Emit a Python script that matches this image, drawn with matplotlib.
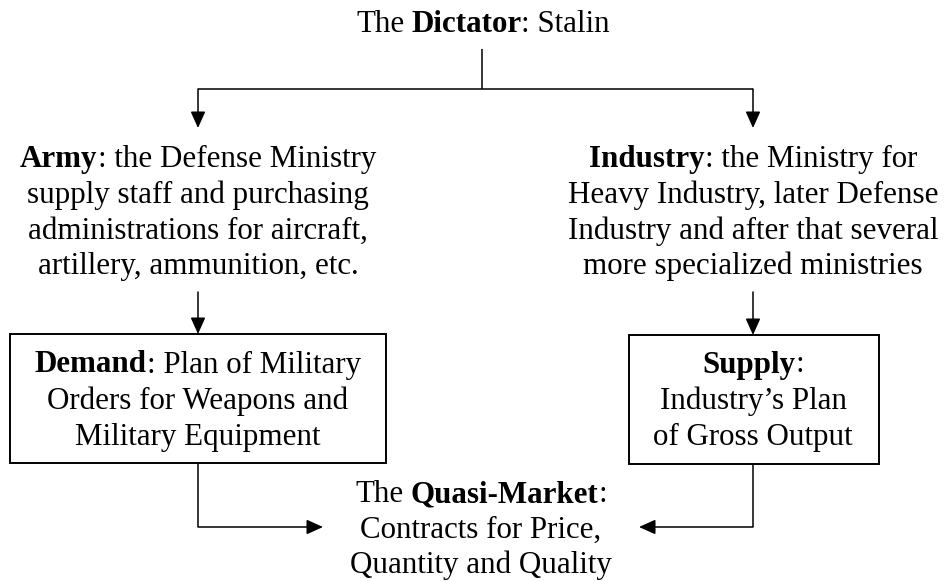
import matplotlib
matplotlib.use("Agg")
from matplotlib import pyplot as plt
from matplotlib.patches import Rectangle

plt.rcParams['font.family'] = ['Liberation Serif', 'DejaVu Serif']

W, H = 946, 581
FS = 22.3

# text blocks: (before, bold part, after) per line
title = [("The ", "Dictator", ": Stalin")]
army = [("", "Army", ": the Defense Ministry"),
        ("supply staff and purchasing", "", ""),
        ("administrations for aircraft,", "", ""),
        ("artillery, ammunition, etc.", "", "")]
industry = [("", "Industry", ": the Ministry for"),
            ("Heavy Industry, later Defense", "", ""),
            ("Industry and after that several", "", ""),
            ("more specialized ministries", "", "")]
demand = [("", "Demand", ": Plan of Military"),
          ("Orders for Weapons and", "", ""),
          ("Military Equipment", "", "")]
supply = [("", "Supply", ":"),
          ("Industry\u2019s Plan", "", ""),
          ("of Gross Output", "", "")]
market = [("The ", "Quasi-Market", ":"),
          ("Contracts for Price,", "", ""),
          ("Quantity and Quality", "", "")]

fig = plt.figure(figsize=(W / 100, H / 100), dpi=100)
ax = fig.add_axes([0, 0, 1, 1])
ax.set_xlim(0, W)
ax.set_ylim(H, 0)
ax.axis('off')
renderer = fig.canvas.get_renderer()


def width(s, weight='normal'):
    if not s:
        return 0.0
    t = ax.text(0, 0, s, fontsize=FS, fontweight=weight)
    w = t.get_window_extent(renderer).width
    t.remove()
    return w


space = width("T T") - width("TT")


def pw(s, weight='normal'):
    # width including leading/trailing spaces
    core = s.strip()
    n = len(s) - len(s.lstrip()) + len(s) - len(s.rstrip())
    return width(core, weight) + n * space if core else n * space


def draw_block(lines, cx, y0, dy):
    for i, (a, b, c) in enumerate(lines):
        parts = [(a, 'normal'), (b, 'bold'), (c, 'normal')]
        ws = [pw(s, wt) for s, wt in parts]
        x = cx - sum(ws) / 2
        y = y0 + i * dy + 9.5
        for (s, wt), w in zip(parts, ws):
            if s.strip():
                lead = (len(s) - len(s.lstrip())) * space
                ax.text(x + lead, y, s.strip(), fontsize=FS, fontweight=wt,
                        ha='left', va='baseline', color='black')
            x += w


def line(xs, ys):
    ax.plot(xs, ys, color='black', lw=1.1, solid_capstyle='butt')


def arrow(start, tip):
    ax.annotate('', xy=tip, xytext=start,
                arrowprops=dict(arrowstyle='-|>,head_length=1.0,head_width=0.45',
                                color='black', lw=1.1, shrinkA=0, shrinkB=0))


draw_block(title, 483, 22, 35.5)
draw_block(army, 198, 158, 35.5)
draw_block(industry, 753, 158, 35.5)
draw_block(demand, 198, 363, 36)
draw_block(supply, 753, 363, 36)
draw_block(market, 481, 493, 35)

# boxes
ax.add_patch(Rectangle((10, 334), 376, 129, fill=False, ec='black', lw=1.4))
ax.add_patch(Rectangle((629, 335), 250, 129, fill=False, ec='black', lw=1.4))

# connectors
line([482, 482], [49, 89])
line([198, 753], [89, 89])
arrow((198, 89), (198, 128))
arrow((753, 89), (753, 128))
arrow((198, 292), (198, 334))
arrow((753, 292), (753, 335))
line([198, 198], [463, 527])
arrow((198, 527), (323, 527))
line([753, 753], [464, 527])
arrow((753, 527), (639, 527))

fig.savefig("out.png", dpi=100)
